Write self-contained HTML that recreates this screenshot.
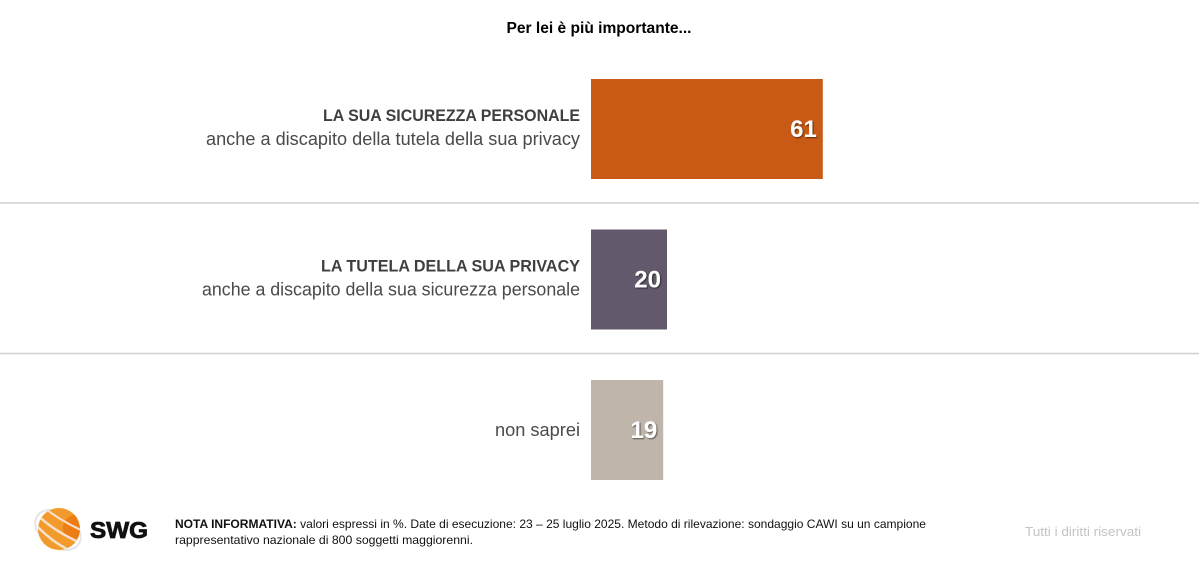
<!DOCTYPE html>
<html lang="it">
<head>
<meta charset="utf-8">
<title>Per lei è più importante...</title>
<style>
html,body{margin:0;padding:0;background:#fff;width:1199px;height:563px;overflow:hidden}
svg{display:block;font-family:"Liberation Sans",sans-serif}
</style>
</head>
<body>
<svg id="chart" width="1199" height="563" viewBox="0 0 1199 563" xmlns="http://www.w3.org/2000/svg">
  <defs>
    <filter id="shadow" x="-20%" y="-20%" width="150%" height="150%">
      <feDropShadow dx="1" dy="1" stdDeviation="0.7" flood-color="#000" flood-opacity="0.55"/>
    </filter>
    <clipPath id="globe-clip"><circle cx="59" cy="529" r="21"/></clipPath>
  </defs>
  <rect width="1199" height="563" fill="#fff"/>
  <text x="599" y="33" text-anchor="middle" font-size="16" font-weight="700" fill="#000" textLength="185" lengthAdjust="spacingAndGlyphs">Per lei è più importante...</text>
  <g id="rows"></g>
  <line x1="0" x2="1199" y1="203" y2="203" stroke="#cfcfcf" stroke-width="1.5"/>
  <line x1="0" x2="1199" y1="353.500" y2="353.500" stroke="#cfcfcf" stroke-width="1.5"/>

  <g>
    <ellipse cx="58" cy="530" rx="25" ry="17" transform="rotate(35 58 530)" fill="none" stroke="#e6e6e6" stroke-width="2"/>
    <circle cx="59" cy="529" r="21" fill="#f39a2c"/>
    <g clip-path="url(#globe-clip)">
      <circle cx="76" cy="528" r="13" fill="#ec7d12"/>
      <path d="M37 515 Q57 533 81 543" fill="none" stroke="#f6e3cf" stroke-width="2.500"/>
      <path d="M37 526 Q53 543 73 552" fill="none" stroke="#f6e3cf" stroke-width="2.500"/>
      <path d="M43 507 Q61 521 83 531" fill="none" stroke="#f6e3cf" stroke-width="2"/>
    </g>
    <text x="90" y="538" font-size="23" font-weight="700" fill="#111" stroke="#111" stroke-width="0.800" textLength="58" lengthAdjust="spacingAndGlyphs">SWG</text>
  </g>

  <g font-size="12" fill="#111">
    <text x="175" y="528" textLength="751" lengthAdjust="spacingAndGlyphs"><tspan font-weight="700">NOTA INFORMATIVA:</tspan> valori espressi in %. Date di esecuzione: 23 – 25 luglio 2025. Metodo di rilevazione: sondaggio CAWI su un campione</text>
    <text x="175" y="544" textLength="298" lengthAdjust="spacingAndGlyphs">rappresentativo nazionale di 800 soggetti maggiorenni.</text>
  </g>
  <text x="1025" y="536" font-size="13" fill="#c4c4c4" textLength="116" lengthAdjust="spacingAndGlyphs">Tutti i diritti riservati</text>
</svg>
<script>
const categories = ["sicurezza", "privacy", "non-saprei"];
const seriesValues = [61, 20, 19];
const headlines = ["LA SUA SICUREZZA PERSONALE", "LA TUTELA DELLA SUA PRIVACY", ""];
const sublines = ["anche a discapito della tutela della sua privacy", "anche a discapito della sua sicurezza personale", "non saprei"];
const barColors = ["#c85a15", "#63596c", "#bfb5ab"];

const NS = "http://www.w3.org/2000/svg";
const rowsGroup = document.getElementById("rows");
const xOrigin = 591;
const unitWidth = 3.8;
const rowTop = 79;
const rowStep = 150.5;
const barHeight = 100;
const headlineWidths = [257, 259, 0];
const sublineWidths = [374, 378, 85];

function xScale(v) { return v * unitWidth; }
function yScale(i) { return rowTop + i * rowStep; }

function makeText(x, y, size, weight, fill, str, fitWidth) {
  const t = document.createElementNS(NS, "text");
  t.setAttribute("x", x);
  t.setAttribute("y", y);
  t.setAttribute("text-anchor", "end");
  t.setAttribute("font-size", size);
  t.setAttribute("font-weight", weight);
  t.setAttribute("fill", fill);
  if (fitWidth) {
    t.setAttribute("textLength", fitWidth);
    t.setAttribute("lengthAdjust", "spacingAndGlyphs");
  }
  t.textContent = str;
  return t;
}

categories.forEach(function (cat, i) {
  const y = yScale(i);
  const w = xScale(seriesValues[i]);
  const mid = y + barHeight / 2;

  const bar = document.createElementNS(NS, "rect");
  bar.setAttribute("x", xOrigin);
  bar.setAttribute("y", y);
  bar.setAttribute("width", w);
  bar.setAttribute("height", barHeight);
  bar.setAttribute("fill", barColors[i]);
  
  
  rowsGroup.appendChild(bar);

  const value = makeText(xOrigin + w - 6, mid + 8, 24, 700, "#fff", String(seriesValues[i]));
  value.setAttribute("filter", "url(#shadow)");
  
  
  rowsGroup.appendChild(value);

  if (headlines[i]) {
    const head = makeText(580, mid - 8, 17, 700, "#3f3f3f", headlines[i], headlineWidths[i]);
    
    
    rowsGroup.appendChild(head);
  }

  const subY = headlines[i] ? mid + 16 : mid + 6;
  const sub = makeText(580, subY, 18, 400, "#4a4a4a", sublines[i], sublineWidths[i]);
  
  
  rowsGroup.appendChild(sub);
});
</script>
</body>
</html>
